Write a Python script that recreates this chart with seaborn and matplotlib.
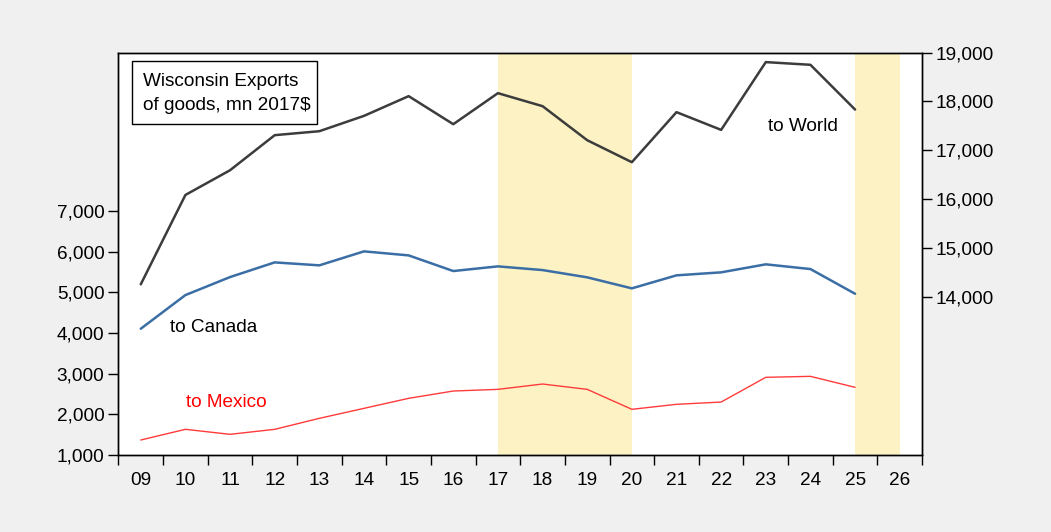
import matplotlib
matplotlib.use("Agg")
import matplotlib.pyplot as plt
import matplotlib.ticker as mticker
from matplotlib.patches import Rectangle
import pandas as pd
import seaborn as sns

# values (mn 2017$)
years = list(range(2009, 2026))
canada = [4106, 4934, 5377, 5738, 5665, 6009, 5910, 5525, 5640, 5549, 5370, 5099, 5419, 5493, 5690, 5574, 4966]
mexico = [1369, 1632, 1509, 1632, 1902, 2148, 2394, 2574, 2615, 2746, 2615, 2124, 2247, 2303, 2911, 2935, 2665]
world = [14266, 16091, 16596, 17312, 17393, 17706, 18109, 17536, 18170, 17904, 17209, 16760, 17782, 17420, 18804, 18749, 17835]
tick_labels = ["09", "10", "11", "12", "13", "14", "15", "16", "17", "18",
               "19", "20", "21", "22", "23", "24", "25", "26"]
shade_spans = [(2017, 2020), (2025, 2026)]

df = pd.DataFrame({"year": years, "canada": canada, "mexico": mexico, "world": world})

sns.set_style("ticks")
plt.rcParams["font.family"] = ["Liberation Sans", "DejaVu Sans"]
plt.rcParams["font.size"] = 13.7
for k in ("text.color", "xtick.color", "ytick.color", "axes.labelcolor", "axes.edgecolor"):
    plt.rcParams[k] = "black"

fig = plt.figure(figsize=(10.51, 5.32), dpi=100, facecolor="#F0F0F0")
ax = fig.add_axes([0.1127, 0.1447, 0.7646, 0.7566])
ax.set_facecolor("white")

for a, b in shade_spans:
    ax.axvspan(a, b, color="#FCF2C4", lw=0, zorder=0)

sns.lineplot(data=df, x="year", y="canada", ax=ax, color="#3A6EA5", lw=1.8)
sns.lineplot(data=df, x="year", y="mexico", ax=ax, color="#FF3B3B", lw=1.0)

ax2 = ax.twinx()
ax2.patch.set_visible(False)
sns.lineplot(data=df, x="year", y="world", ax=ax2, color="#3C3C3C", lw=1.8)

ax.set_xlim(2008.5, 2026.5)
ax.set_ylim(1000, 10900)
ax2.set_ylim(10780, 19000)

ax.set_yticks(range(1000, 8000, 1000))
ax2.set_yticks(range(14000, 20000, 1000))
fmt = mticker.FuncFormatter(lambda v, p: f"{int(v):,}")
ax.yaxis.set_major_formatter(fmt)
ax2.yaxis.set_major_formatter(fmt)

ax.set_xticks([y - 0.5 for y in range(2009, 2028)])
ax.set_xticklabels([])
ax.set_xticks(range(2009, 2027), minor=True)
ax.set_xticklabels(tick_labels, minor=True)
ax.tick_params(axis="x", which="major", direction="out", length=7, width=1, color="black")
ax.tick_params(axis="x", which="minor", length=0, pad=12, labelsize=13.7)
ax.tick_params(axis="y", direction="out", length=7, width=1, labelsize=13.7, pad=3)
ax2.tick_params(axis="y", direction="out", length=7, width=1, labelsize=13.7, pad=3)

for a in (ax, ax2):
    a.set_xlabel("")
    a.set_ylabel("")
    for s in a.spines.values():
        s.set_visible(True)
        s.set_color("black")
        s.set_linewidth(1)

# title box
ax.add_patch(Rectangle((0.0164, 0.8216), 0.231, 0.158, transform=ax.transAxes,
                       fill=False, edgecolor="black", lw=1, zorder=5))
ax.text(0.0309, 0.8986, "Wisconsin Exports\nof goods, mn 2017$", transform=ax.transAxes,
        ha="left", va="center", fontsize=13.7, linespacing=1.5, zorder=6)

ax.text(2009.66, 4130, "to Canada", ha="left", va="center", fontsize=13.7)
ax.text(2010.02, 2286, "to Mexico", ha="left", va="center", fontsize=13.7, color="#FF0000")
ax2.text(2023.06, 17487, "to World", ha="left", va="center", fontsize=13.7)

fig.savefig("out.png", dpi=100, facecolor=fig.get_facecolor())
